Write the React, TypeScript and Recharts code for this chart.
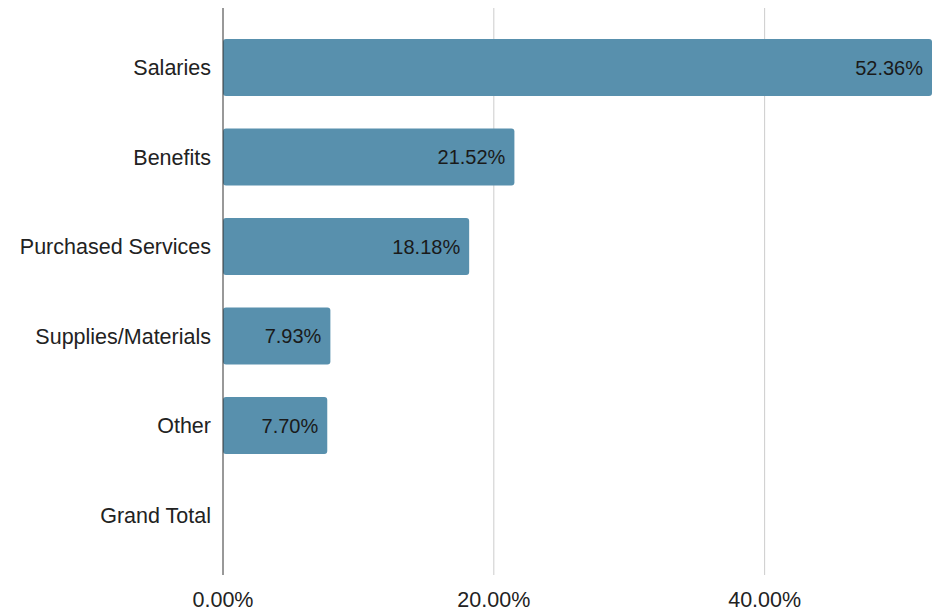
import { BarChart, Bar, XAxis, YAxis, ReferenceLine, LabelList } from "recharts";

const categories = ["Salaries", "Benefits", "Purchased Services", "Supplies/Materials", "Other", "Grand Total"];
const shares: (number | null)[] = [52.36, 21.52, 18.18, 7.93, 7.7, null];
const xTicks = [0, 20, 40];
const gridTicks = [20, 40];

const chartData = categories.map((name, i) => ({ name, share: shares[i] }));

const FONT = "'Liberation Sans', Arial, sans-serif";

export default function App() {
  return (
    <div style={{ width: 932, height: 611, fontFamily: FONT }}>
      <style>{"body{margin:0}"}</style>
      <BarChart
        width={932}
        height={611}
        data={chartData}
        layout="vertical"
        margin={{ top: 8, right: 0, left: 0, bottom: 0 }}
      >
        <XAxis
          type="number"
          domain={[0, "dataMax"]}
          ticks={xTicks}
          allowDataOverflow
          axisLine={false}
          tickLine={false}
          tickMargin={11}
          height={36}
          tick={{ fill: "#222222", fontSize: 21.5, fontFamily: FONT }}
          tickFormatter={(v: number) => `${v.toFixed(2)}%`}
        />
        <YAxis
          type="category"
          dataKey="name"
          width={223}
          padding={{ top: 15, bottom: 15 }}
          axisLine={{ stroke: "#333333" }}
          tickLine={false}
          tickMargin={6}
          tick={{ fill: "#222222", fontSize: 21.5, fontFamily: FONT }}
        />
        {gridTicks.map((t) => (
          <ReferenceLine key={t} x={t} stroke="#cccccc" {...({ zIndex: -100 } as any)} />
        ))}
        <Bar dataKey="share" fill="#5890ad" barSize={57} radius={3} isAnimationActive={false}>
          <LabelList
            dataKey="share"
            position="insideRight"
            offset={9}
            fill="#1a1a1a"
            fontSize={20}
            fontFamily={FONT}
            formatter={(v: any) => (v == null ? "" : `${Number(v).toFixed(2)}%`)}
          />
        </Bar>
      </BarChart>
    </div>
  );
}
